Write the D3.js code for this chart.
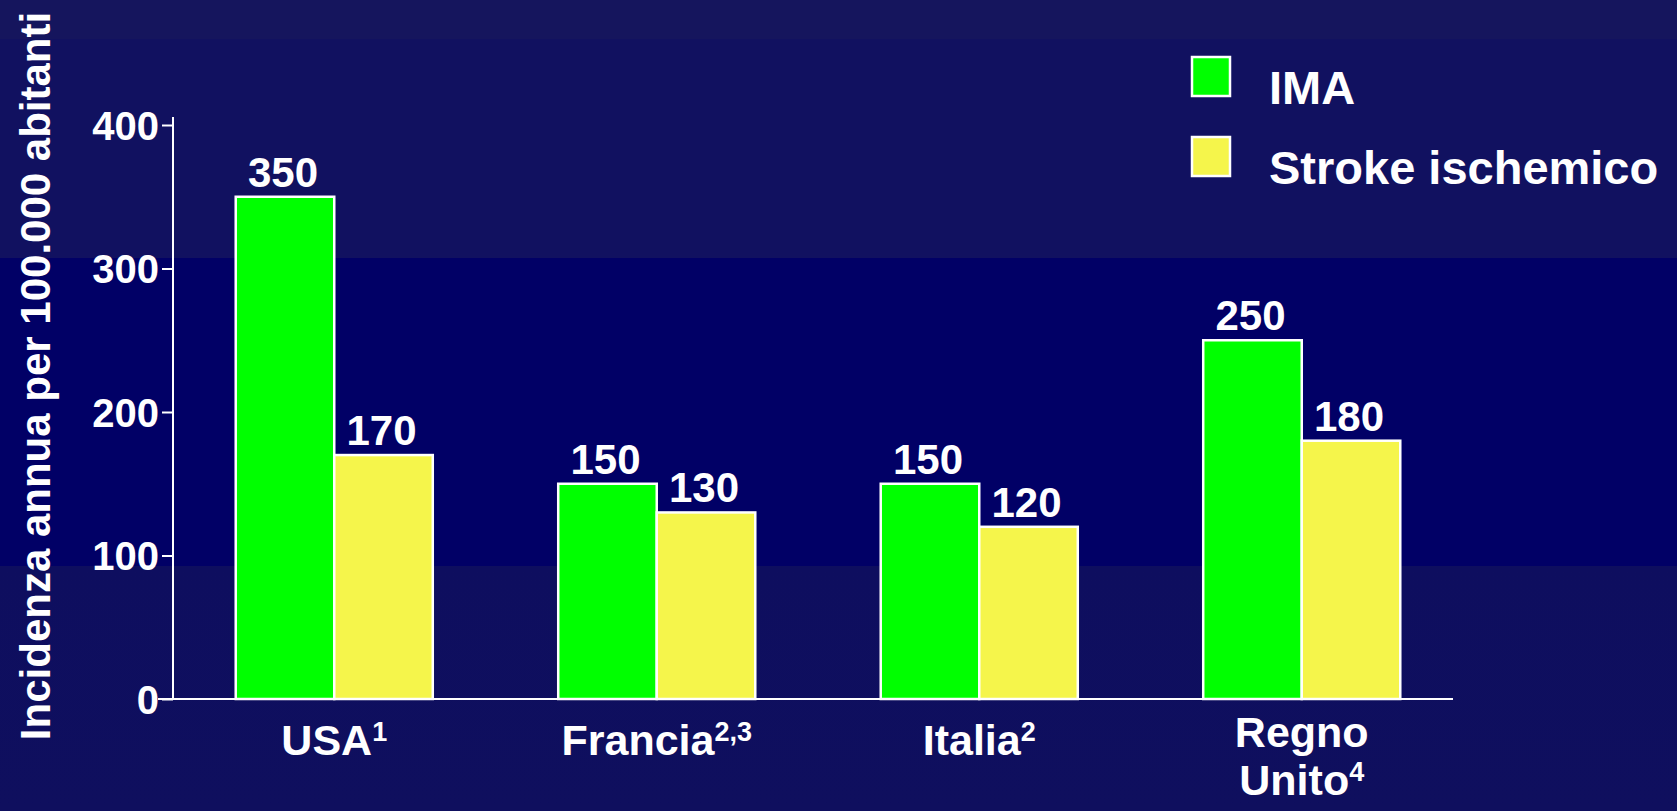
<!DOCTYPE html>
<html>
<head>
<meta charset="utf-8">
<script src="https://cdn.jsdelivr.net/npm/d3@7"></script>
<style>
  html, body { margin: 0; padding: 0; background: #0f0f5e; }
  svg { display: block; }
  text { font-family: "Liberation Sans", Arial, Helvetica, sans-serif; font-weight: bold; fill: #ffffff; }
</style>
</head>
<body>
<svg id="chart" width="1677" height="811"></svg>
<script>
// ---- data ----
const categories = ["USA", "Francia", "Italia", "Regno\nUnito"];
const footnotes = ["1", "2,3", "2", "4"];
const seriesNames = ["IMA", "Stroke ischemico"];
const imaValues = [350, 150, 150, 250];
const strokeValues = [170, 130, 120, 180];
const yTicks = [0, 100, 200, 300, 400];
const yTitle = "Incidenza annua per 100.000 abitanti";

// ---- styling ----
const W = 1677, H = 811;
const colors = ["#00ff00", "#f5f54b"];
const font = '"Liberation Sans", Arial, Helvetica, sans-serif';

const svg = d3.select("#chart");

// background: stepped dark blue bands
const defs = svg.append("defs");
const grad = defs.append("linearGradient").attr("id", "bg")
  .attr("x1", 0).attr("y1", 0).attr("x2", 0).attr("y2", 1);
const bands = [
  [0, "#15155d"], [0.048, "#15155d"], [0.048, "#111160"], [0.318, "#111160"],
  [0.318, "#010066"], [0.698, "#010066"], [0.698, "#0e0e5f"], [1, "#0f0f5e"]
];
bands.forEach(([o, c]) => grad.append("stop").attr("offset", o).attr("stop-color", c));
svg.append("rect").attr("width", W).attr("height", H).attr("fill", "url(#bg)");

// ---- scales ----
const y = d3.scaleLinear().domain([0, 400]).range([699, 125]);
const x0 = d3.scaleBand().domain(categories).range([173, 1463])
  .paddingInner(0.389).paddingOuter(0.1945);
const x1 = d3.scaleBand().domain(seriesNames).range([0, x0.bandwidth()]);

const rows = categories.map((c, i) => ({ cat: c, vals: [imaValues[i], strokeValues[i]] }));

// ---- y axis ----
const yAxis = d3.axisLeft(y).tickValues(yTicks).tickSize(11).tickPadding(3).tickSizeOuter(0);
const gy = svg.append("g").attr("transform", `translate(${x0.range()[0]},0)`).call(yAxis);
gy.select(".domain").remove();
gy.selectAll(".tick line").attr("stroke", "#ffffff").attr("stroke-width", 2);
gy.selectAll(".tick text").attr("fill", "#ffffff").style("font-family", font)
  .style("font-weight", "bold").style("font-size", "40px").attr("dy", "0.36em");
gy.append("line").attr("x1", 0).attr("x2", 0).attr("y1", y(0)).attr("y2", y(400) - 8)
  .attr("stroke", "#ffffff").attr("stroke-width", 2);

// ---- bars ----
const groups = svg.append("g").selectAll("g").data(rows).join("g")
  .attr("transform", d => `translate(${x0(d.cat)},0)`);

groups.selectAll("rect").data(d => d.vals.map((v, j) => ({ s: seriesNames[j], v, j })))
  .join("rect")
  .attr("x", d => x1(d.s))
  .attr("y", d => y(d.v))
  .attr("width", x1.bandwidth())
  .attr("height", d => y(0) - y(d.v))
  .attr("fill", d => colors[d.j])
  .attr("stroke", "#ffffff").attr("stroke-width", 2.5);

groups.selectAll("text.val").data(d => d.vals.map((v, j) => ({ s: seriesNames[j], v })))
  .join("text").attr("class", "val")
  .attr("x", d => x1(d.s) + x1.bandwidth() / 2 - 2)
  .attr("y", d => y(d.v) - 10)
  .attr("text-anchor", "middle")
  .style("font-size", "42px")
  .text(d => d.v);

// ---- x axis baseline ----
svg.append("line")
  .attr("x1", x0.range()[0] - 15).attr("x2", x0.range()[1] - 10)
  .attr("y1", y(0)).attr("y2", y(0))
  .attr("stroke", "#ffffff").attr("stroke-width", 2);

// ---- category labels ----
categories.forEach((c, i) => {
  const lines = c.split("\n");
  const cx = x0(c) + x0.bandwidth() / 2;
  const t = svg.append("text").attr("text-anchor", "middle").style("font-size", "43px");
  const base = y(0) + 56 - (lines.length - 1) * 8;
  lines.forEach((ln, k) => {
    t.append("tspan").attr("x", cx).attr("y", base + k * 48).text(ln);
    if (k === lines.length - 1) {
      t.append("tspan").attr("dy", -14).style("font-size", "27px").text(footnotes[i]);
    }
  });
});

// ---- y title ----
svg.append("text")
  .attr("transform", `translate(49.5,${(y(0) + y(400)) / 2 - 36}) rotate(-90)`)
  .attr("text-anchor", "middle")
  .style("font-size", "42px")
  .text(yTitle);

// ---- legend ----
const legend = svg.append("g").attr("transform", "translate(1192,57)");
seriesNames.forEach((s, j) => {
  const g = legend.append("g").attr("transform", `translate(0,${j * 80})`);
  g.append("rect").attr("width", 38).attr("height", 39)
    .attr("fill", colors[j]).attr("stroke", "#ffffff").attr("stroke-width", 2.5);
  g.append("text").attr("x", 77).attr("y", 47).style("font-size", "47px").text(s);
});
</script>
</body>
</html>
